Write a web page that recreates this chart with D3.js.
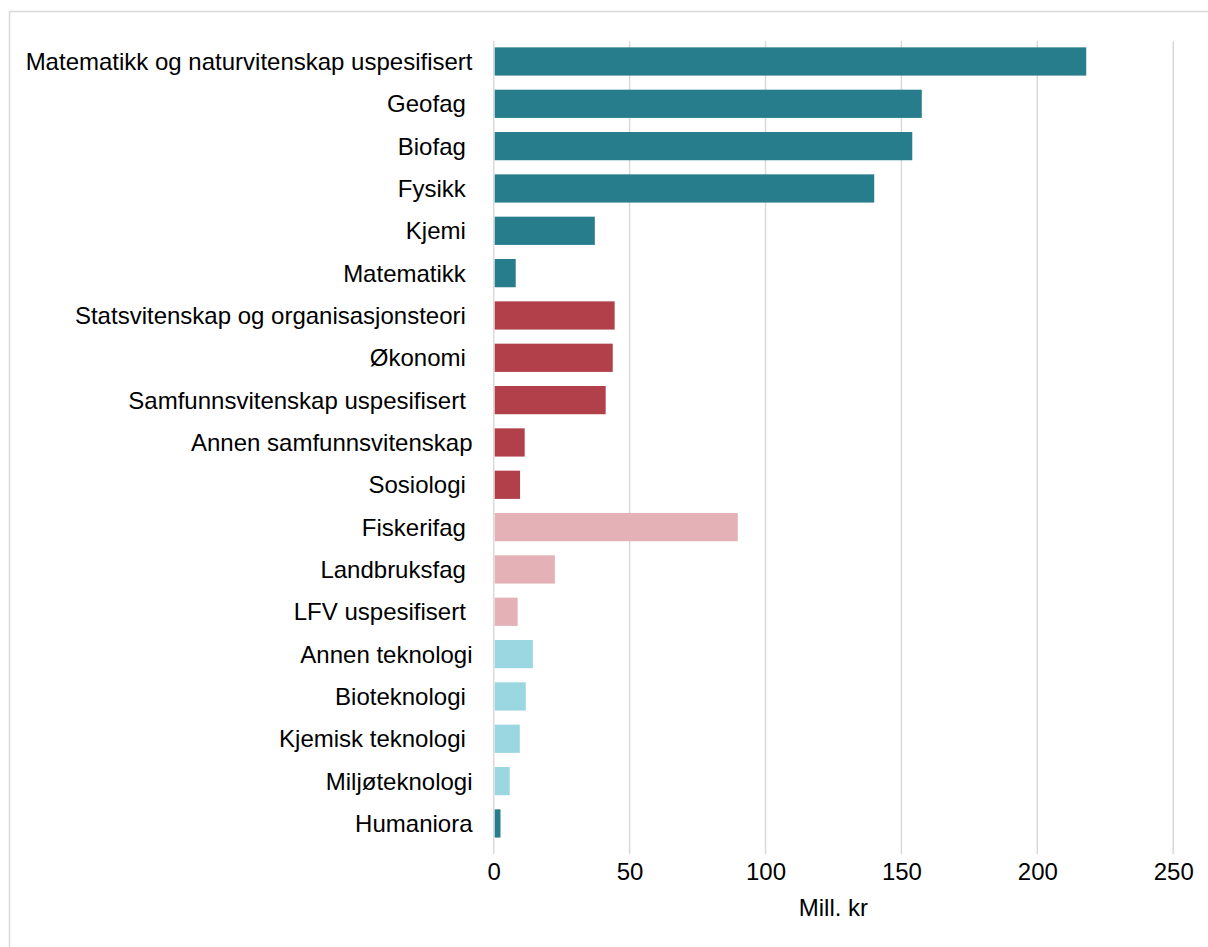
<!DOCTYPE html>
<html>
<head>
<meta charset="utf-8">
<script src="https://cdn.jsdelivr.net/npm/d3@7"></script>
<style>
  html, body { margin: 0; padding: 0; background: #fff; }
  svg { display: block; font-family: "Liberation Sans", Arial, sans-serif; }
  .cat { white-space: pre; }
</style>
</head>
<body>
<svg id="chart" width="1208" height="947"></svg>
<script>
// Fagfelt (some source labels carry a trailing space)
const categories = [
  "Matematikk og naturvitenskap uspesifisert",
  "Geofag ",
  "Biofag ",
  "Fysikk ",
  "Kjemi ",
  "Matematikk ",
  "Statsvitenskap og organisasjonsteori ",
  "Økonomi ",
  "Samfunnsvitenskap uspesifisert ",
  "Annen samfunnsvitenskap",
  "Sosiologi ",
  "Fiskerifag ",
  "Landbruksfag ",
  "LFV uspesifisert ",
  "Annen teknologi",
  "Bioteknologi ",
  "Kjemisk teknologi ",
  "Miljøteknologi",
  "Humaniora"
];

// Mill. kr per fagfelt
const values = [218, 157.5, 154, 140, 37.2, 8.1, 44.5, 43.8, 41.2, 11.4, 9.7, 89.8, 22.5, 8.8, 14.4, 11.8, 9.6, 5.9, 2.5];

// Fagområde for each fagfelt, used for bar colour
const groups = [
  "mn", "mn", "mn", "mn", "mn", "mn",
  "sv", "sv", "sv", "sv", "sv",
  "lfv", "lfv", "lfv",
  "tek", "tek", "tek", "tek",
  "mn"
];

const groupNames = ["mn", "sv", "lfv", "tek"];
const groupColors = ["#277d8c", "#b2404b", "#e3b1b6", "#9bd7e1"];

const xTicks = [0, 50, 100, 150, 200, 250];
const xTitle = "Mill. kr";

const rows = categories.map((c, i) => ({ name: c, value: values[i], group: groups[i] }));

const svg = d3.select("#chart");

// outer frame
svg.append("rect")
  .attr("x", 9.5).attr("y", 11.5)
  .attr("width", 1220).attr("height", 960)
  .attr("fill", "none")
  .attr("stroke", "#d9d9d9")
  .attr("stroke-width", 1.5);

const x = d3.scaleLinear().domain([0, 250]).range([493.7, 1173.2]);
const y = d3.scaleBand()
  .domain(categories)
  .range([41, 843.9])
  .paddingInner(0.333)
  .paddingOuter(0.15);
const color = d3.scaleOrdinal().domain(groupNames).range(groupColors);

// vertical gridlines
svg.append("g")
  .selectAll("line")
  .data(xTicks)
  .join("line")
  .attr("x1", d => x(d)).attr("x2", d => x(d))
  .attr("y1", 41).attr("y2", 854)
  .attr("stroke", "#d9d9d9")
  .attr("stroke-width", 1.5);

// bars
svg.append("g")
  .selectAll("rect")
  .data(rows)
  .join("rect")
  .attr("x", x(0) + 1)
  .attr("y", d => y(d.name))
  .attr("width", d => x(d.value) - x(0) - 1)
  .attr("height", y.bandwidth())
  .attr("fill", d => color(d.group));

// category labels
svg.append("g")
  .selectAll("text")
  .data(rows)
  .join("text")
  .attr("class", "cat")
  .attr("x", 472.5)
  .attr("y", d => y(d.name) + y.bandwidth() / 2)
  .attr("dy", "0.35em")
  .attr("text-anchor", "end")
  .attr("font-size", 24)
  .attr("fill", "#000")
  .text(d => d.name);

// x axis tick labels
const xAxis = d3.axisBottom(x).tickValues(xTicks).tickSize(0).tickPadding(0);
const gx = svg.append("g")
  .attr("transform", "translate(0,863)")
  .call(xAxis);
gx.select(".domain").remove();
gx.selectAll("text")
  .attr("font-size", 24)
  .attr("font-family", "Liberation Sans, Arial, sans-serif")
  .attr("fill", "#000")
  .attr("dy", "0.71em");

// axis title
svg.append("text")
  .attr("x", (x(0) + x(250)) / 2)
  .attr("y", 916)
  .attr("text-anchor", "middle")
  .attr("font-size", 24)
  .attr("fill", "#000")
  .text(xTitle);
</script>
</body>
</html>
